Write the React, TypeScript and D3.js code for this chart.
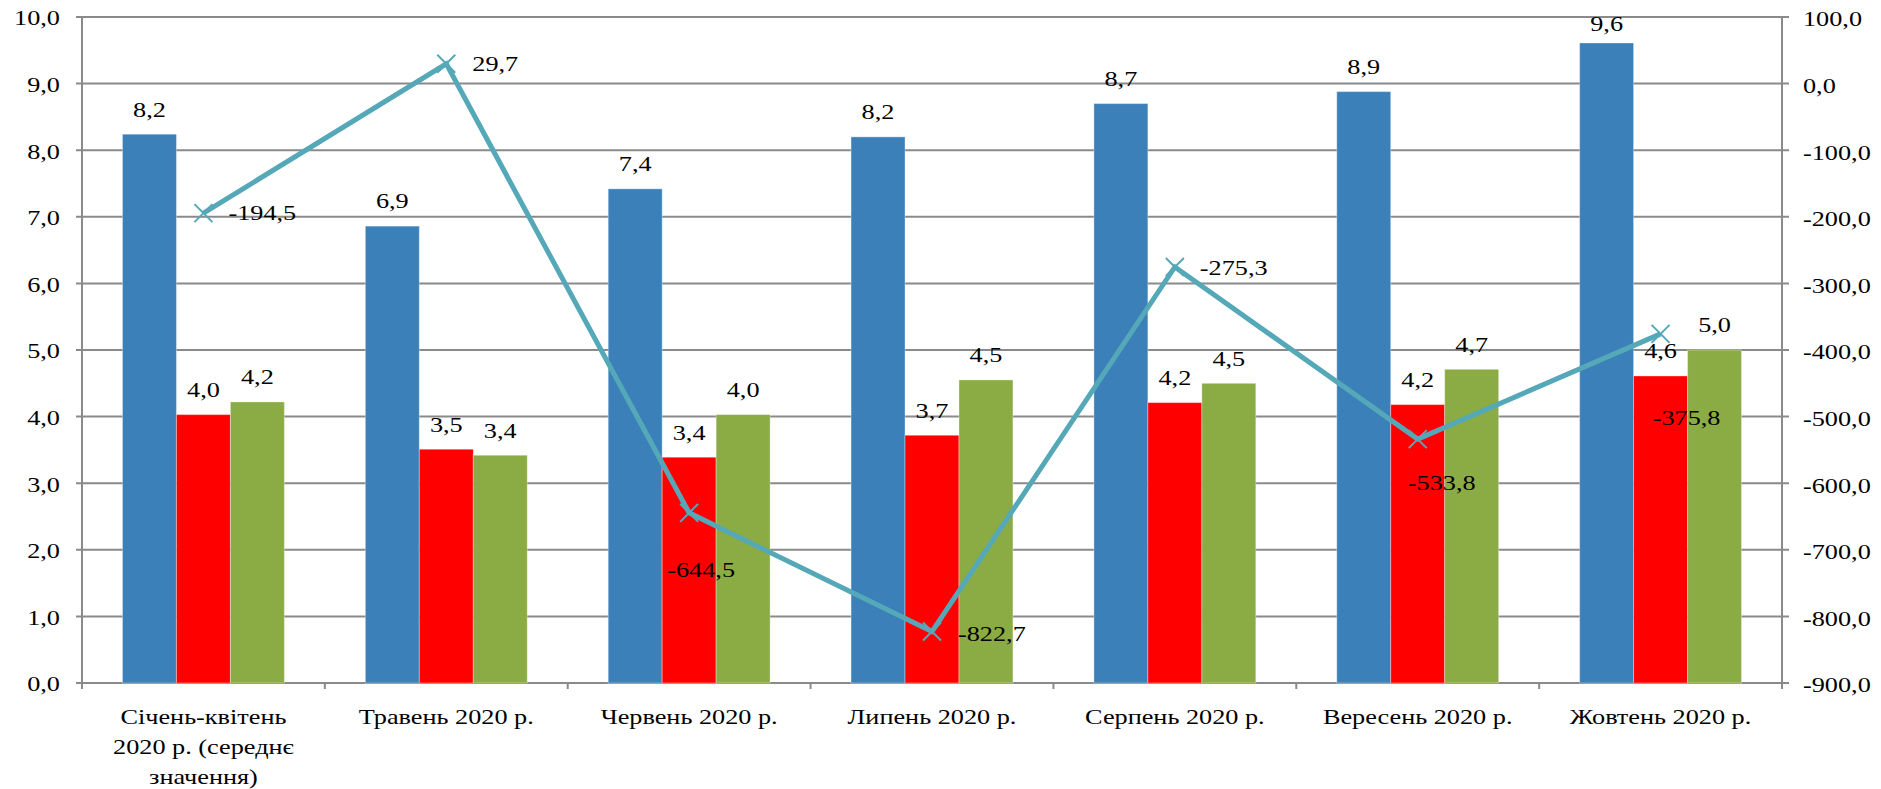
import { useEffect, useRef } from "react";
import * as d3 from "d3";

const categories = [
  ["Січень-квітень", "2020 р. (середнє", "значення)"],
  ["Травень 2020 р."],
  ["Червень 2020 р."],
  ["Липень 2020 р."],
  ["Серпень 2020 р."],
  ["Вересень 2020 р."],
  ["Жовтень 2020 р."],
];
const blueValues = [8.24, 6.86, 7.42, 8.2, 8.7, 8.88, 9.61];
const redValues = [4.03, 3.51, 3.39, 3.72, 4.21, 4.18, 4.61];
const greenValues = [4.22, 3.42, 4.03, 4.55, 4.5, 4.71, 5.0];
const lineValues = [-194.5, 29.7, -644.5, -822.7, -275.3, -533.8, -375.8];
const leftTicks = [0, 1, 2, 3, 4, 5, 6, 7, 8, 9, 10];
const rightTicks = [100, 0, -100, -200, -300, -400, -500, -600, -700, -800, -900];

// manual offsets of the line labels, as placed in the original
const lineLabelOffsets = [
  [25, 0, "start"],
  [26, 0, "start"],
  [12, 57, "middle"],
  [26, 2, "start"],
  [25, 1, "start"],
  [24, 44, "middle"],
  [26, 84, "middle"],
];

const fmt = d3
  .formatLocale({ decimal: ",", thousands: " ", grouping: [3], currency: ["", ""], minus: "-" })
  .format(".1f");

const W = 1881;
const H = 789;
const FONT = "'Liberation Serif', 'DejaVu Serif', serif";
const FS = 21;
const SX = 1.25;
const GRID = "#8a8a8a";

const App = () => {
  const svgRef = useRef(null);

  useEffect(() => {
    const svg = d3.select(svgRef.current);
    svg.selectAll("*").remove();

    const left = 82;
    const right = 1782;
    const top = 17;
    const bottom = 683;

    const x = d3
      .scaleBand()
      .domain(d3.range(categories.length))
      .range([left, right]);
    const series = [
      { values: blueValues, color: "#3c80ba" },
      { values: redValues, color: "#ff0000" },
      { values: greenValues, color: "#8bab45" },
    ];
    const x1 = d3
      .scaleBand()
      .domain(d3.range(series.length))
      .range([0, x.bandwidth()])
      .paddingInner(0)
      .paddingOuter(0.75);
    const yL = d3.scaleLinear().domain([0, 10]).range([bottom, top]);
    const yR = d3.scaleLinear().domain([-900, 100]).range([bottom, top]);

    const addText = (g, tx, ty, str, anchor) =>
      g
        .append("text")
        .attr("transform", `translate(${tx},${ty}) scale(${SX},1)`)
        .attr("text-anchor", anchor)
        .attr("dy", "0.35em")
        .style("font-family", FONT)
        .style("font-size", `${FS}px`)
        .attr("fill", "#000")
        .text(str);

    // gridlines
    svg
      .append("g")
      .selectAll("line")
      .data(leftTicks)
      .enter()
      .append("line")
      .attr("x1", left - 6)
      .attr("x2", right + 7)
      .attr("y1", (d) => yL(d))
      .attr("y2", (d) => yL(d))
      .attr("stroke", GRID)
      .attr("stroke-width", 2);

    // bars
    series.forEach((s, si) => {
      svg
        .append("g")
        .selectAll("rect")
        .data(s.values)
        .enter()
        .append("rect")
        .attr("x", (d, i) => x(i) + x1(si))
        .attr("width", x1.bandwidth())
        .attr("y", (d) => yL(d))
        .attr("height", (d) => yL(0) - yL(d))
        .attr("fill", s.color)
        .attr("stroke", "rgba(255,255,255,0.35)")
        .attr("stroke-width", 1);
    });

    // axes lines
    svg
      .append("line")
      .attr("x1", left)
      .attr("x2", left)
      .attr("y1", top)
      .attr("y2", bottom + 6)
      .attr("stroke", GRID)
      .attr("stroke-width", 2);
    svg
      .append("line")
      .attr("x1", right)
      .attr("x2", right)
      .attr("y1", top)
      .attr("y2", bottom + 6)
      .attr("stroke", GRID)
      .attr("stroke-width", 2);
    svg
      .append("g")
      .selectAll("line")
      .data(d3.range(categories.length + 1))
      .enter()
      .append("line")
      .attr("x1", (d) => left + d * x.step())
      .attr("x2", (d) => left + d * x.step())
      .attr("y1", bottom)
      .attr("y2", bottom + 6)
      .attr("stroke", GRID)
      .attr("stroke-width", 2);

    // tick labels
    const axisText = svg.append("g");
    leftTicks.forEach((t) => addText(axisText, 60, yL(t) + 1, fmt(t), "end"));
    rightTicks.forEach((t) => addText(axisText, 1803, yR(t) + 2, fmt(t), "start"));

    // category labels
    categories.forEach((lines, i) => {
      lines.forEach((ln, li) => {
        addText(axisText, x(i) + x.bandwidth() / 2, 717 + li * 30, ln, "middle");
      });
    });

    // line series
    const cx = (i) => x(i) + x.bandwidth() / 2;
    const line = d3
      .line()
      .x((d, i) => cx(i))
      .y((d) => yR(d));
    svg
      .append("path")
      .datum(lineValues)
      .attr("d", line)
      .attr("fill", "none")
      .attr("stroke", "#55a8b8")
      .attr("stroke-width", 5)
      .attr("stroke-linejoin", "miter");

    const m = 9;
    svg
      .append("g")
      .selectAll("path")
      .data(lineValues)
      .enter()
      .append("path")
      .attr("transform", (d, i) => `translate(${cx(i)},${yR(d)})`)
      .attr("d", `M${-m},${-m}L${m},${m}M${-m},${m}L${m},${-m}`)
      .attr("stroke", "#55a8b8")
      .attr("stroke-width", 2)
      .attr("fill", "none");

    // bar labels (kept inside the plot area at the top, as Excel does)
    const labels = svg.append("g");
    series.forEach((s, si) => {
      s.values.forEach((v, i) => {
        const ly = Math.max(yL(v) - 25, top + 7);
        addText(labels, x(i) + x1(si) + x1.bandwidth() / 2, ly, fmt(v), "middle");
      });
    });

    // line labels
    lineValues.forEach((v, i) => {
      const [dx, dy, anchor] = lineLabelOffsets[i];
      addText(labels, cx(i) + dx, yR(v) + dy, fmt(v), anchor);
    });
  }, []);

  return (
    <svg
      ref={svgRef}
      width={W}
      height={H}
      style={{ position: "absolute", left: 0, top: 0, background: "#fff", display: "block" }}
    ></svg>
  );
};

export default App;
